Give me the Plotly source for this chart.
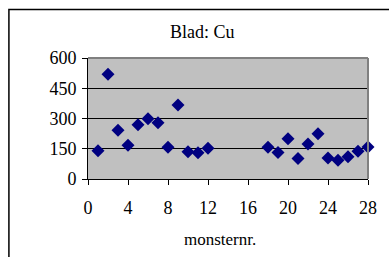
import plotly.graph_objects as go

monster = [1, 2, 3, 4, 5, 6, 7, 8, 9, 10, 11, 12,
           18, 19, 20, 21, 22, 23, 24, 25, 26, 27, 28]
cu = [140, 520, 242, 167, 269, 299, 279, 157, 367, 135, 130, 152,
      157, 132, 200, 102, 173, 225, 104, 93, 110, 137, 159]
x_ticks = [0, 4, 8, 12, 16, 20, 24, 28]
y_ticks = [0, 150, 300, 450, 600]

W, H = 389, 257
L, R, T, B = 88, 373, 58, 179

fig = go.Figure()
fig.add_trace(go.Scatter(
    x=monster, y=cu, mode="markers",
    marker=dict(symbol="diamond", size=10, color="#000080",
                line=dict(width=0)),
    showlegend=False, cliponaxis=False))

font = "Liberation Serif"
pw, ph = R - L, B - T

def px(x):
    return (x - L) / pw

def py(y):
    return (B - y) / ph

fig.update_layout(
    width=W, height=H,
    margin=dict(l=L, r=W - R, t=T, b=H - B),
    paper_bgcolor="white", plot_bgcolor="#c0c0c0",
    font=dict(family=font, size=18, color="black"),
    xaxis=dict(range=[0, 28], tickvals=x_ticks, showgrid=False,
               zeroline=False, showline=True, linecolor="black", linewidth=1,
               ticks="outside", ticklen=5, tickcolor="black",
               tickfont=dict(family=font, size=18),
               ticklabelstandoff=7, fixedrange=True),
    yaxis=dict(range=[0, 600], tickvals=y_ticks, showgrid=True,
               gridcolor="black", gridwidth=1, zeroline=False,
               showline=True, linecolor="black", linewidth=1,
               ticks="outside", ticklen=5, tickcolor="black",
               tickfont=dict(family=font, size=18),
               ticklabelstandoff=2, fixedrange=True),
    shapes=[
        dict(type="line", xref="paper", yref="paper", x0=0, x1=1, y0=1, y1=1,
             line=dict(color="#808080", width=2)),
        dict(type="line", xref="paper", yref="paper", x0=1, x1=1, y0=0, y1=1,
             line=dict(color="#808080", width=2)),
        dict(type="rect", xref="paper", yref="paper",
             x0=px(7.5), x1=px(400), y0=py(9.5), y1=py(270),
             line=dict(color="black", width=1.5), fillcolor="rgba(0,0,0,0)"),
    ],
    annotations=[
        dict(text="Blad: Cu", xref="paper", yref="paper", x=px(205), y=py(32),
             showarrow=False, xanchor="center", yanchor="middle",
             font=dict(family=font, size=18)),
        dict(text="monsternr.", xref="paper", yref="paper", x=px(222), y=py(240),
             showarrow=False, xanchor="center", yanchor="middle",
             font=dict(family=font, size=17)),
    ],
)

fig.write_html("out.html", config={"displayModeBar": False},
               post_script="document.body.style.margin='0';")
